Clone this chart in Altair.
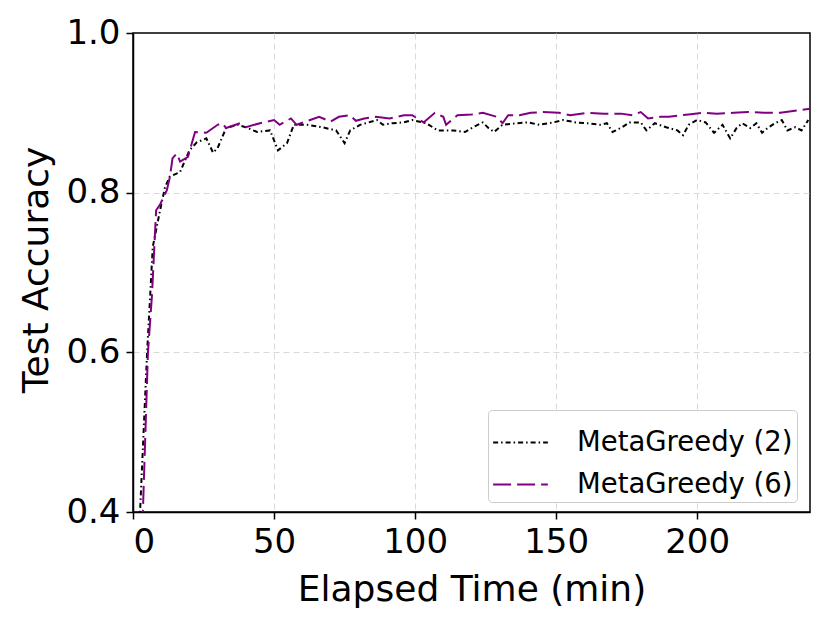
import altair as alt
import pandas as pd

# MetaGreedy (2) - black dash-dot
t2 = [1.0, 2.5, 5.0, 6.0, 7.0, 9.6, 11.3, 13, 16.7, 20, 22.6, 26, 28.4, 30, 33, 37, 40, 44, 48.6,
      51.4, 54.6, 57, 61.7, 67, 72, 75, 77, 80.5, 86.5, 88.6, 92, 96, 99, 104, 108, 113.5, 117.7,
      120.6, 124, 126, 128, 131, 136, 140, 144, 149, 152.5, 157, 161, 165.6, 168, 170, 173.4, 176,
      180, 182, 185, 189, 193, 195, 197, 200, 203, 206, 209, 211.7, 214, 216, 218.8, 221, 223, 225,
      227.6, 230, 232, 234.8, 237, 239.4]
a2 = [0.28, 0.40, 0.60, 0.665, 0.732, 0.778, 0.806, 0.82, 0.826, 0.853, 0.863, 0.868, 0.85, 0.856,
      0.881, 0.885, 0.882, 0.876, 0.878, 0.853, 0.862, 0.885, 0.885, 0.882, 0.878, 0.862, 0.878,
      0.885, 0.891, 0.885, 0.887, 0.888, 0.891, 0.887, 0.878, 0.878, 0.876, 0.882, 0.888, 0.881,
      0.876, 0.885, 0.887, 0.888, 0.885, 0.888, 0.891, 0.888, 0.887, 0.885, 0.887, 0.876, 0.882,
      0.888, 0.888, 0.878, 0.887, 0.882, 0.878, 0.872, 0.885, 0.891, 0.888, 0.875, 0.885, 0.868,
      0.881, 0.887, 0.881, 0.887, 0.875, 0.881, 0.887, 0.891, 0.878, 0.882, 0.878, 0.891]

# MetaGreedy (6) - purple dashed
t6 = [2.5, 3.5, 5.3, 6.7, 8.2, 9.6, 10.6, 12, 13.1, 14, 15.5, 16.7, 19.5, 22, 26, 30, 31.7, 33, 38,
      40, 45, 50, 52, 56, 58, 62, 66, 70, 73, 77, 79, 82, 86, 91, 96, 99, 103, 107, 110, 111, 115,
      120, 124, 129, 131, 133, 137, 141, 145, 151, 155, 161, 167, 173, 177, 180, 182.6, 187, 190,
      197, 202, 207, 213, 218, 224, 229.5, 235.5, 240]
a6 = [0.29, 0.40, 0.60, 0.67, 0.778, 0.785, 0.793, 0.803, 0.82, 0.843, 0.849, 0.839, 0.845, 0.876,
      0.875, 0.885, 0.887, 0.881, 0.887, 0.882, 0.887, 0.891, 0.885, 0.893, 0.885, 0.89, 0.895,
      0.889, 0.895, 0.897, 0.89, 0.893, 0.895, 0.893, 0.897, 0.897, 0.888, 0.9, 0.895, 0.885, 0.897,
      0.898, 0.9, 0.895, 0.887, 0.897, 0.897, 0.9, 0.901, 0.9, 0.897, 0.9, 0.899, 0.899, 0.897,
      0.901, 0.893, 0.895, 0.895, 0.898, 0.9, 0.899, 0.9, 0.901, 0.9, 0.9, 0.903, 0.905]

series = ["MetaGreedy (2)", "MetaGreedy (6)"]
colors = ["#000000", "#800080"]
dashes = [[5, 3, 1.5, 3], [18, 6]]

df = pd.concat([
    pd.DataFrame({"t": t2, "acc": a2, "series": series[0], "ord": range(len(t2))}),
    pd.DataFrame({"t": t6, "acc": a6, "series": series[1], "ord": range(len(t6))}),
])

FONT = "DejaVu Sans"
W, H = 677, 479

legend_opts = dict(title=None, orient="none", legendX=355, legendY=377,
                   symbolType="stroke", symbolSize=3000, symbolStrokeWidth=2,
                   labelFontSize=27.5, labelFont=FONT, labelOffset=28,
                   rowPadding=0, padding=4, strokeColor="#cccccc",
                   fillColor="white", cornerRadius=4, labelLimit=400,
                   labelColor="black")

chart = alt.Chart(df).mark_line(clip=True, strokeWidth=2).encode(
    x=alt.X("t:Q", scale=alt.Scale(domain=[0, 240], nice=False, zero=False),
            axis=alt.Axis(title="Elapsed Time (min)", values=[0, 50, 100, 150, 200],
                          titleY=88, titleBaseline="alphabetic")),
    y=alt.Y("acc:Q", scale=alt.Scale(domain=[0.4, 1.0], nice=False, zero=False),
            axis=alt.Axis(title="Test Accuracy", values=[0.4, 0.6, 0.8, 1.0], format=".1f",
                          titleX=-86, titleY=H / 2 - 3, titleBaseline="alphabetic",
                          titleAngle=-90,
                          gridOpacity={"condition": {"test": "datum.value >= 0.99", "value": 0},
                                       "value": 1})),
    color=alt.Color("series:N", scale=alt.Scale(domain=series, range=colors),
                    legend=alt.Legend(**legend_opts)),
    strokeDash=alt.StrokeDash("series:N", scale=alt.Scale(domain=series, range=dashes),
                              legend=alt.Legend(**legend_opts)),
    order="ord:Q",
).properties(
    width=W, height=H,
    autosize=alt.AutoSizeParams(type="none"),
    padding={"left": 125, "top": 25, "right": 12, "bottom": 100},
).configure_view(
    stroke="black", strokeWidth=1.5
).configure_axis(
    labelFont=FONT, titleFont=FONT, labelFontSize=34, titleFontSize=36,
    labelColor="black", titleColor="black", titleFontWeight="normal",
    tickColor="black", tickSize=7, tickWidth=1.5, domainColor="black", domainWidth=1.5,
    gridColor="#d9d9d9", gridDash=[6, 4], gridWidth=1, labelPadding=6,
)

chart.save("out.html", embed_options={"renderer": "svg", "actions": False})
